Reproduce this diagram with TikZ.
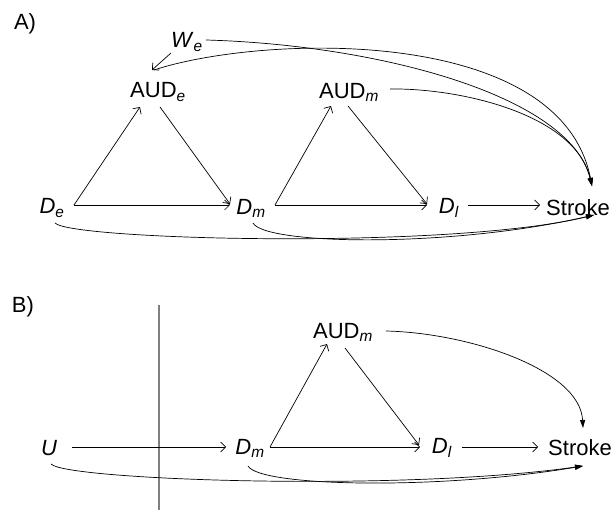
\documentclass[tikz,border=0pt]{standalone}
\usepackage{fontspec}
\setmainfont{Liberation Sans}
\usetikzlibrary{arrows.meta,calc}
\newcommand{\dvar}[2]{\textit{#1}\textsubscript{\textit{#2}}}
\tikzset{
  var/.style={font=\fontsize{22}{26}\selectfont,inner sep=0pt},
  arr/.style={-{Straight Barb[length=5pt,width=10pt]},line width=0.7pt},
  arrs/.style={-{Triangle[length=8pt,width=5pt]},line width=0.7pt},
}

\begin{document}
\begin{tikzpicture}[x=1pt,y=-1pt]
  \useasboundingbox (0,0) rectangle (611,510);
  % --- panel A ---
  \node[var] (labA) at (25,24) {A)};
  \node[var] (We) at (187,42) {\dvar{W}{e}};
  \node[var] (AUDe) at (158,92) {AUD\textsubscript{\textit{e}}};
  \node[var] (AUDmA) at (349,92) {AUD\textsubscript{\textit{m}}};
  \node[var] (De) at (52,208) {\dvar{D}{e}};
  \node[var] (DmA) at (251,208) {\dvar{D}{m}};
  \node[var] (DlA) at (449,208) {\dvar{D}{l}};
  \node[var] (StrokeA) at (578,208) {Stroke};
  % straight edges
  \draw[arr] ($(De)+(22,-3)$) -- ($(DmA)+(-21,-3)$);
  \draw[arr] ($(DmA)+(24,-3)$) -- ($(DlA)+(-22,-3)$);
  \draw[arr] ($(DlA)+(19,-3)$) -- ($(StrokeA)+(-38,-3)$);
  \draw[arr] ($(De)+(22,-3)$) -- ($(AUDe)+(-18,15)$);
  \draw[arr] ($(AUDe)+(2,15)$) -- ($(DmA)+(-21,-4)$);
  \draw[arr] ($(DmA)+(24,-3)$) -- ($(AUDmA)+(-18,14)$);
  \draw[arr] ($(AUDmA)+(-1,14)$) -- ($(DlA)+(-22,-4)$);
  \draw[arr] ($(We)+(-16,11)$) -- ($(AUDe)+(-6,-22)$);
  % curved edges into Stroke
  \draw[arrs] ($(We)+(19,-2)$) .. controls +(174,5) and +(-22,-90) .. ($(StrokeA)+(14,-22)$);
  \draw[arrs] ($(AUDe)+(-4,-22)$) .. controls +(106,-35) and +(-32,-162) .. ($(StrokeA)+(14,-22)$);
  \draw[arrs] ($(AUDmA)+(41,-3)$) .. controls +(70,-1) and +(-17,-72) .. ($(StrokeA)+(14,-22)$);
  \draw[arrs] ($(De)+(3,15)$) .. controls +(15,17) and +(-144,35) .. ($(StrokeA)+(16,7)$);
  \draw[arrs] ($(DmA)+(2,15)$) .. controls +(12,22) and +(-144,33) .. ($(StrokeA)+(16,7)$);
  % --- panel B ---
  \node[var] (labB) at (23,307) {B)};
  \node[var] (AUDmB) at (343,332) {AUD\textsubscript{\textit{m}}};
  \node[var] (U) at (49,448) {\textit{U}};
  \node[var] (DmB) at (250,448) {\dvar{D}{m}};
  \node[var] (DlB) at (442,448) {\dvar{D}{l}};
  \node[var] (StrokeB) at (580,448) {Stroke};
  \coordinate (cutT) at (159,305);
  \coordinate (cutB) at (159,510);
  \draw[gray,line width=1.4pt] (cutT) -- (cutB);
  \draw[arr] ($(U)+(23,-1)$) -- ($(DmB)+(-24,-1)$);
  \draw[arr] ($(DmB)+(20,-1)$) -- ($(DlB)+(-22,-1)$);
  \draw[arr] ($(DlB)+(20,-1)$) -- ($(StrokeB)+(-42,-1)$);
  \draw[arr] ($(DmB)+(20,-1)$) -- ($(AUDmB)+(-16,12)$);
  \draw[arr] ($(AUDmB)+(2,16)$) -- ($(DlB)+(-23,-3)$);
  \draw[arrs] ($(AUDmB)+(43,-1)$) .. controls +(84,2) and +(-3,-58) .. ($(StrokeB)+(3,-20)$);
  \draw[arrs] ($(U)+(2,16)$) .. controls +(14,16) and +(-183,26) .. ($(StrokeB)+(3,18)$);
  \draw[arrs] ($(DmB)+(-2,18)$) .. controls +(12,21) and +(-143,24) .. ($(StrokeB)+(3,18)$);
\end{tikzpicture}
\end{document}
